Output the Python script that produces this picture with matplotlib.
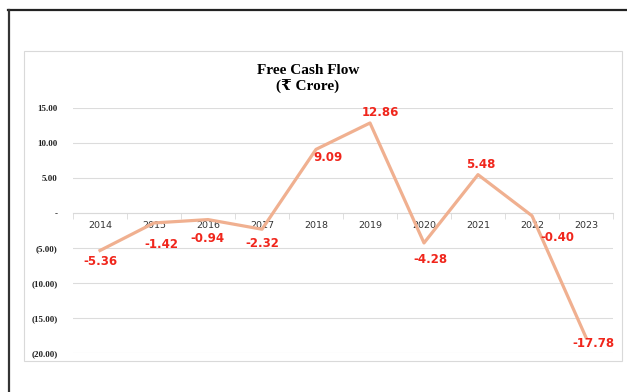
import matplotlib
matplotlib.use("Agg")
import matplotlib.pyplot as plt
from matplotlib.lines import Line2D
from matplotlib.patches import Rectangle
import numpy as np

#==========================================#
#   Free Cash Flow (Rs Crore) 2014 - 2023  #
#==========================================#
years = ['2014', '2015', '2016', '2017', '2018', '2019', '2020', '2021', '2022', '2023']
fcf = [-5.36, -1.42, -0.94, -2.32, 9.09, 12.86, -4.28, 5.48, -0.40, -17.78]
yticks = [15, 10, 5, 0, -5, -10, -15, -20]
ytick_labels = ['15.00', '10.00', '5.00', '-', '(5.00)', '(10.00)', '(15.00)', '(20.00)']

# label offsets in pixels (dx, dy) - placed by hand like the excel chart
lbl_off = [(0, -11), (7, -22), (-1, -19), (0, -14), (12, -8),
           (10, 10), (6, -17), (3, 10), (25, -22), (7, -6)]

line_col = '#F0B090'
red = '#F0261C'

fig = plt.figure(figsize=(6.27, 3.92), dpi=100)
ax = fig.add_axes([73/627, 1-353/392, 540/627, 245/392])

ind = np.arange(len(years))
ax.plot(ind, fcf, color=line_col, lw=2.3, solid_joinstyle='round', zorder=3)

for i, v in enumerate(fcf):
    dx, dy = lbl_off[i]
    ax.annotate('%.2f' % v, (i, v), xytext=(dx*0.72, dy*0.72), textcoords='offset points',
                ha='center', va='center', color=red, fontsize=8.5, fontweight='bold',
                family='DejaVu Sans', zorder=4)

ax.set_xlim(-0.5, len(years)-0.5)
ax.set_ylim(-20, 15)
ax.set_yticks(yticks)
ax.set_yticklabels(ytick_labels, fontsize=6.5, fontweight='bold', family='Liberation Serif', color='#222222')
ax.tick_params(axis='y', length=0, pad=11)
ax.yaxis.grid(True, color='#DCDCDC', lw=0.8)
ax.set_axisbelow(True)

# category axis sitting on zero
ax.spines['bottom'].set_position(('data', 0))
ax.spines['bottom'].set_color('#D9D9D9')
for s in ['top', 'right', 'left']:
    ax.spines[s].set_visible(False)
ax.set_xticks(ind)
ax.set_xticklabels(years, fontsize=6.8, color='#333333')
ax.tick_params(axis='x', which='major', length=0, pad=6)
ax.set_xticks(np.arange(-0.5, len(years)), minor=True)
ax.tick_params(axis='x', which='minor', length=4, color='#D9D9D9', direction='out')

# title
fig.text(308/627, 1-70/392, 'Free Cash Flow', ha='center', va='center', fontsize=11,
         fontweight='bold', family=['Liberation Serif', 'DejaVu Serif'])
fig.text(308/627, 1-87/392, '(\u20b9 Crore)', ha='center', va='center', fontsize=11,
         fontweight='bold', family=['Liberation Serif', 'DejaVu Serif'])

# chart box and outer frame
fig.add_artist(Rectangle((24/627, 1-361/392), 598/627, 310/392, transform=fig.transFigure,
                         fill=False, ec='#D9D9D9', lw=0.8))
fig.add_artist(Line2D([8/627, 1], [1-10/392, 1-10/392], transform=fig.transFigure, color='#222222', lw=1.6))
fig.add_artist(Line2D([9/627, 9/627], [0, 1-10/392], transform=fig.transFigure, color='#333333', lw=1.6))

plt.savefig('out.png', dpi=100)
